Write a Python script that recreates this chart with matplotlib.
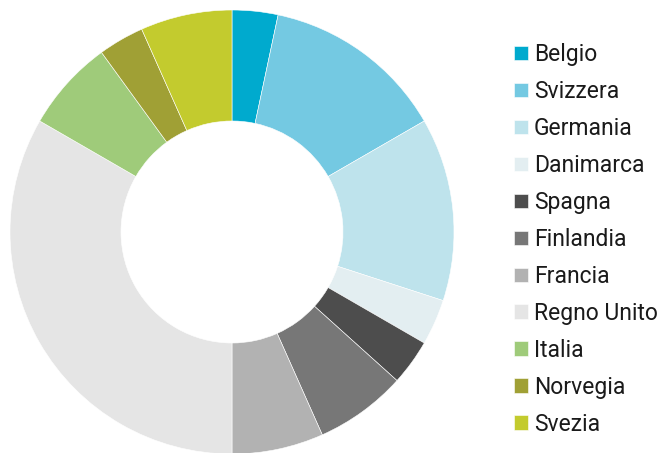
import matplotlib
matplotlib.use("Agg")
import matplotlib.pyplot as plt

# countries and their share (clockwise from the top)
paesi = ["Belgio", "Svizzera", "Germania", "Danimarca", "Spagna", "Finlandia",
         "Francia", "Regno Unito", "Italia", "Norvegia", "Svezia"]
valori = [1, 4, 4, 1, 1, 2, 2, 10, 2, 1, 2]
colori = ["#00AACE", "#74C9E2", "#BEE3EC", "#E3EEF1", "#4D4D4D", "#777777",
          "#B2B2B2", "#E5E5E5", "#9FCB7A", "#A0A035", "#C3CB2E"]

plt.rcParams['font.family'] = ['Roboto', 'DejaVu Sans']

fig = plt.figure(figsize=(6.62, 4.53), dpi=100)
# square axes so the donut sits on the left
ax = fig.add_axes([10/662, -1/453, 444/662, 444/453])

wedges, _ = ax.pie(valori, colors=colori, startangle=90, counterclock=False,
                   radius=1.0, wedgeprops=dict(width=0.5, edgecolor="white", linewidth=0.4))
ax.set_xlim(-1, 1)
ax.set_ylim(-1, 1)
ax.set_aspect("equal")
ax.axis("off")

fig.legend(wedges, paesi, loc="upper left", bbox_to_anchor=(514/662, 1 - 43/453),
           frameon=False, fontsize=16.5, handlelength=0.6, handleheight=0.6,
           handletextpad=0.27, labelspacing=0.61, borderaxespad=0, borderpad=0,
           labelcolor="#1a1a1a")

plt.savefig("out.png", dpi=100)
